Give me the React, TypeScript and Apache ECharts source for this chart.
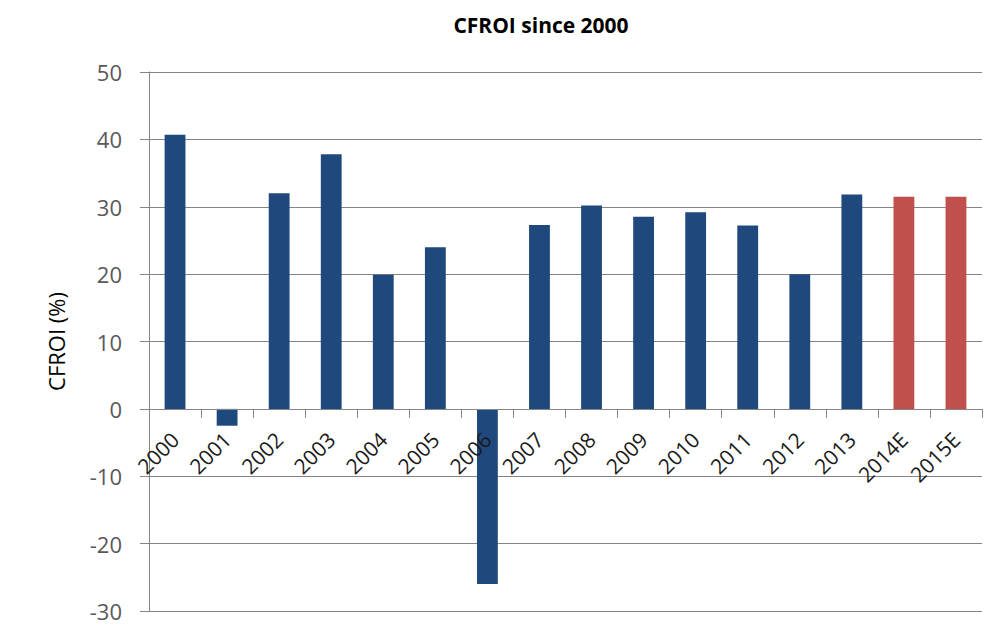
import React, { useEffect, useRef } from "react";
import * as echarts from "echarts";

const titleText = "CFROI since 2000";
const yAxisName = "CFROI (%)";
const categories = ["2000", "2001", "2002", "2003", "2004", "2005", "2006", "2007", "2008", "2009", "2010", "2011", "2012", "2013", "2014E", "2015E"];
const cfroiValues = [40.7, -2.5, 32.0, 37.8, 19.9, 24.0, -26.0, 27.3, 30.2, 28.5, 29.2, 27.2, 20.0, 31.8, 31.5, 31.5];
const yMin = -30;
const yMax = 50;
const yInterval = 10;

const ACTUAL_COLOR = "#1F497D";
const ESTIMATE_COLOR = "#C0504D";
const AXIS_GRAY = "#858585";
const FONT = "'Open Sans', sans-serif";

const W = 1000;
const H = 634;
const GRID_TOP = 72;
const GRID_BOTTOM = 23;

export default function App() {
  const ref = useRef<HTMLDivElement>(null);
  useEffect(() => {
    if (!ref.current) return;
    const chart = echarts.init(ref.current, null, { renderer: "svg" });
    const gridHeight = H - GRID_TOP - GRID_BOTTOM;
    // move the category axis (line, ticks and labels) up to the value-axis zero
    const zeroOffset = -(gridHeight * (0 - yMin)) / (yMax - yMin);
    chart.setOption({
      animation: false,
      backgroundColor: "#ffffff",
      title: {
        text: titleText,
        left: 536,
        textAlign: "center",
        top: 9,
        textStyle: { fontFamily: FONT, fontWeight: "bold", fontSize: 21, color: "#000" },
      },
      grid: { left: 149, right: 18, top: GRID_TOP, bottom: GRID_BOTTOM, containLabel: false, outerBoundsMode: "none" },
      xAxis: {
        type: "category",
        data: categories,
        position: "bottom",
        offset: zeroOffset,
        z: 3,
        axisLine: { show: true, onZero: false, lineStyle: { color: AXIS_GRAY, width: 1 } },
        axisTick: { show: true, length: 9, alignWithLabel: false, lineStyle: { color: AXIS_GRAY } },
        axisLabel: { rotate: 45, fontFamily: FONT, fontSize: 21, color: "#1a1a1a", margin: 27, interval: 0 },
        splitLine: { show: false },
      },
      yAxis: {
        type: "value",
        min: yMin,
        max: yMax,
        interval: yInterval,
        name: yAxisName,
        nameLocation: "middle",
        nameGap: 82,
        nameTextStyle: { fontFamily: FONT, fontSize: 22, color: "#000" },
        axisLine: { show: true, lineStyle: { color: AXIS_GRAY } },
        axisTick: { show: true, length: 9, lineStyle: { color: AXIS_GRAY } },
        axisLabel: { fontFamily: FONT, fontSize: 22, color: "#595959", margin: 27 },
        splitLine: { show: true, lineStyle: { color: AXIS_GRAY, width: 1 } },
      },
      series: [
        {
          type: "bar",
          barWidth: "40%",
          data: cfroiValues.map((v, i) => ({
            value: v,
            itemStyle: { color: categories[i].endsWith("E") ? ESTIMATE_COLOR : ACTUAL_COLOR },
          })),
        },
      ],
    });
    return () => chart.dispose();
  }, []);
  return <div ref={ref} style={{ position: "fixed", left: 0, top: 0, width: W, height: H }} />;
}
